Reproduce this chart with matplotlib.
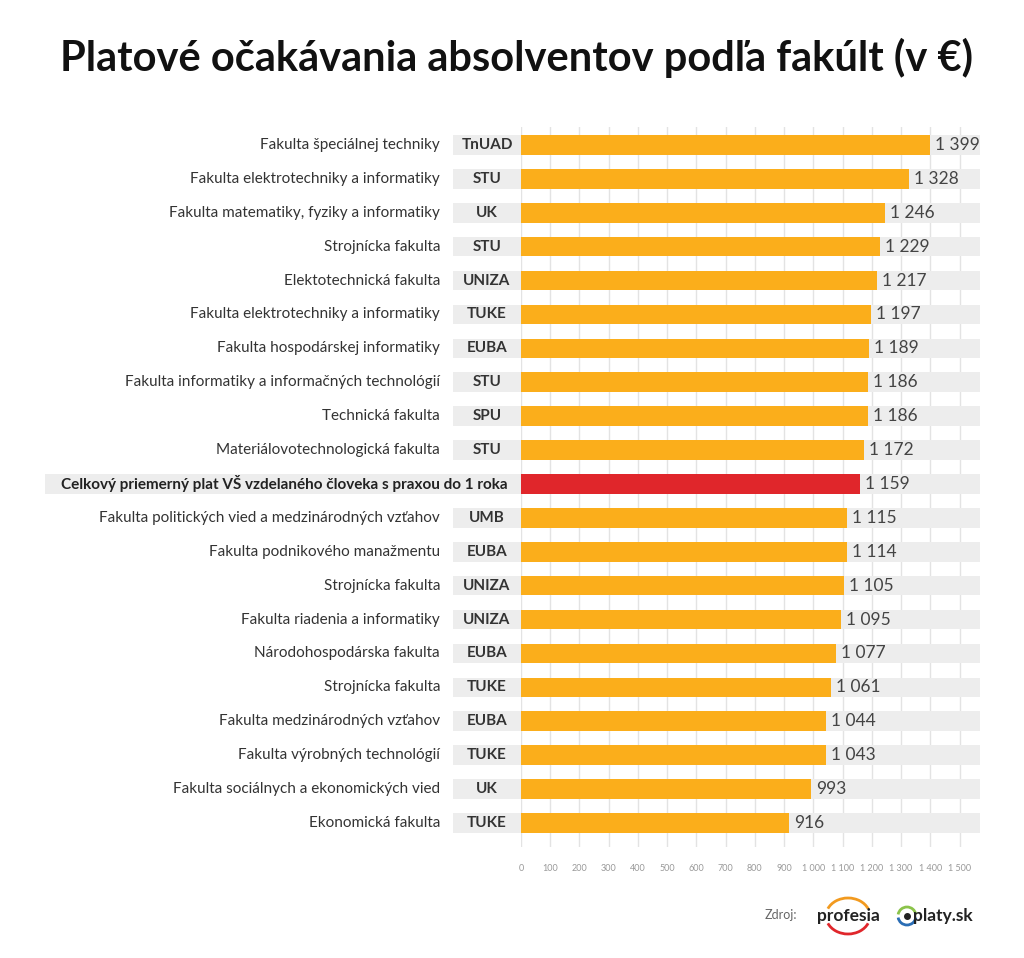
import matplotlib
matplotlib.use("Agg")
import matplotlib.pyplot as plt
from matplotlib.patches import Arc

plt.rcParams["font.family"] = ["Lato", "DejaVu Sans"]

faculties = ["Fakulta špeciálnej techniky", "Fakulta elektrotechniky a informatiky",
             "Fakulta matematiky, fyziky a informatiky", "Strojnícka fakulta",
             "Elektotechnická fakulta", "Fakulta elektrotechniky a informatiky",
             "Fakulta hospodárskej informatiky", "Fakulta informatiky a informačných technológií",
             "Technická fakulta", "Materiálovotechnologická fakulta",
             "Celkový priemerný plat VŠ vzdelaného človeka s praxou do 1 roka",
             "Fakulta politických vied a medzinárodných vzťahov", "Fakulta podnikového manažmentu",
             "Strojnícka fakulta", "Fakulta riadenia a informatiky", "Národohospodárska fakulta",
             "Strojnícka fakulta", "Fakulta medzinárodných vzťahov", "Fakulta výrobných technológií",
             "Fakulta sociálnych a ekonomických vied", "Ekonomická fakulta"]
schools = ["TnUAD", "STU", "UK", "STU", "UNIZA", "TUKE", "EUBA", "STU", "SPU", "STU", "",
           "UMB", "EUBA", "UNIZA", "UNIZA", "EUBA", "TUKE", "EUBA", "TUKE", "UK", "TUKE"]
salaries = [1399, 1328, 1246, 1229, 1217, 1197, 1189, 1186, 1186, 1172, 1159,
            1115, 1114, 1105, 1095, 1077, 1061, 1044, 1043, 993, 916]
ticks = list(range(0, 1501, 100))
TOTAL = 10  # index of the overall-average row

ORANGE, RED, BG, GRID = "#FBAE1B", "#E0262B", "#EDEDED", "#E3E3E3"
W, H = 1024, 958
fig = plt.figure(figsize=(W / 100, H / 100), dpi=100)
ax = fig.add_axes([521 / W, 1 - 847 / H, 459 / W, 720 / H])
XMAX = 1570
ax.set_xlim(0, XMAX)
ax.set_ylim(20.71, -0.53)
u = XMAX / 459  # data units per pixel

for t in ticks:
    ax.plot([t, t], [-0.53, 20.71], color=GRID, lw=1, zorder=0)

n = len(salaries)
for i in range(n):
    left = -1628 if i == TOTAL else -68 * u
    ax.barh(i, XMAX - left, left=left, height=0.58, color=BG, zorder=1, clip_on=False)
    ax.barh(i, salaries[i], height=0.58, color=RED if i == TOTAL else ORANGE, zorder=2)
    ax.text(salaries[i] + 5 * u, i, f"{salaries[i]:,}".replace(",", " "), va="center",
            ha="left", fontsize=12.5, color="#444444", zorder=3)
    if i == TOTAL:
        ax.text(-13 * u, i, faculties[i], ha="right", va="center", fontsize=11,
                fontweight="bold", color="#222222", clip_on=False)
    else:
        ax.text(-34 * u, i, schools[i], ha="center", va="center", fontsize=11,
                fontweight="bold", color="#333333", clip_on=False)
        ax.text(-81 * u, i, faculties[i], ha="right", va="center", fontsize=11,
                color="#333333", clip_on=False)

ax.set_xticks(ticks)
ax.set_xticklabels([f"{t:,}".replace(",", " ") for t in ticks], fontsize=6.5, color="#999999")
ax.tick_params(axis="x", length=0, pad=12)
ax.set_yticks([])
for s in ax.spines.values():
    s.set_visible(False)

fig.text(516 / W, 1 - 58 / H, "Platové očakávania absolventov podľa fakúlt (v €)",
         ha="center", va="center", fontsize=30, fontweight="bold", color="#111111")

# source line
fig.text(797 / W, 1 - 915 / H, "Zdroj:", ha="right", va="center", fontsize=9, color="#666666")
fig.text(848 / W, 1 - 916 / H, "profesia", ha="center", va="center", fontsize=12.5,
         fontweight="bold", color="#222222")
fig.text(943 / W, 1 - 916 / H, "platy.sk", ha="center", va="center", fontsize=12.5,
         fontweight="bold", color="#222222")
lax = fig.add_axes([0, 0, 1, 1], facecolor="none")
lax.set_xlim(0, W)
lax.set_ylim(H, 0)
lax.axis("off")
lax.add_patch(Arc((848, 916), 44, 36, theta1=200, theta2=340, color="#F29A1F", lw=2))
lax.add_patch(Arc((848, 916), 44, 36, theta1=20, theta2=160, color="#E0262B", lw=2))
lax.add_patch(Arc((907, 916), 18, 18, theta1=190, theta2=350, color="#8BC34A", lw=2))
lax.add_patch(Arc((907, 916), 18, 18, theta1=10, theta2=170, color="#2A6DB5", lw=2))
lax.plot([907], [916], "o", color="#222222", ms=4)

fig.savefig("out.png", dpi=100)
